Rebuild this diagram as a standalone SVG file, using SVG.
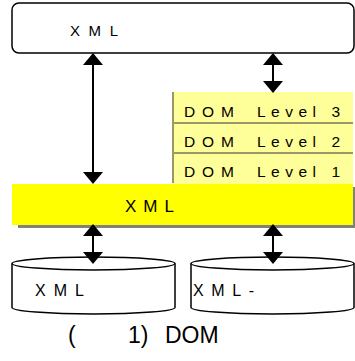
<svg xmlns="http://www.w3.org/2000/svg" width="355" height="361" viewBox="0 0 355 361">
<style>
  text { font-family: "Liberation Sans", Arial, sans-serif; fill: #000; }
  .box { fill: #fff; stroke: #000; stroke-width: 1.5; }
  .lvl { fill: #ffff99; }
  .sep { stroke: #999966; stroke-width: 2; }
  .conn { stroke: #000; stroke-width: 2; fill: none; marker-start: url(#ah); marker-end: url(#ah); }
  .t13 { font-size: 15px; }
  .t14 { font-size: 15.5px; }
  .t15 { font-size: 16px; }
  .t16 { font-size: 17px; }
  .cap { font-size: 23px; }
</style>
<defs>
  <marker id="ah" viewBox="0 0 12 20" refX="11" refY="10" markerWidth="12" markerHeight="20" markerUnits="userSpaceOnUse" orient="auto-start-reverse">
    <path d="M0,0 L12,10 L0,20 Z" fill="#000"/>
  </marker>
</defs>

<g id="app">
  <rect class="box" x="12" y="3" width="342" height="50" rx="7" ry="7"/>
  <text class="t13" x="70" y="36" textLength="48">XML</text>
</g>

<g id="dom-levels">
  <rect class="lvl" x="172" y="92" width="181" height="92"/>
  <line class="sep" x1="173" y1="92" x2="173" y2="183"/>
  <line class="sep" x1="172" y1="123" x2="353" y2="123"/>
  <line class="sep" x1="172" y1="153" x2="353" y2="153"/>
  <text class="t14" x="184" y="117" textLength="50">DOM</text>
  <text class="t14" x="257" y="117" textLength="83">Level 3</text>
  <text class="t14" x="184" y="147" textLength="50">DOM</text>
  <text class="t14" x="257" y="147" textLength="83">Level 2</text>
  <text class="t14" x="184" y="177" textLength="50">DOM</text>
  <text class="t14" x="257" y="177" textLength="83">Level 1</text>
</g>

<g id="parser">
  <rect x="18" y="187" width="341" height="41" fill="#808080"/>
  <rect x="12" y="184" width="341" height="41" fill="#ffff00"/>
  <text class="t16" x="125" y="212" textLength="49">XML</text>
</g>

<g id="db-xml">
  <path class="box" d="M12,263.5 L12,307.5 A81.5,6.5 0 0 0 175,307.5 L175,263.5"/>
  <ellipse class="box" cx="93.5" cy="263.5" rx="81.5" ry="6.5"/>
  <text class="t15" x="35" y="296" textLength="49">XML</text>
</g>

<g id="db-xml2">
  <path class="box" d="M191,263.5 L191,307.5 A81.5,6.5 0 0 0 354,307.5 L354,263.5"/>
  <ellipse class="box" cx="272.5" cy="263.5" rx="81.5" ry="6.5"/>
  <text class="t15" x="193" y="296" textLength="61">XML-</text>
</g>

<g id="connectors">
  <line class="conn" x1="93" y1="54" x2="93" y2="183"/>
  <line class="conn" x1="273" y1="54" x2="273" y2="92"/>
  <line class="conn" x1="93" y1="225" x2="93" y2="263"/>
  <line class="conn" x1="273" y1="225" x2="273" y2="263"/>
</g>

<g id="caption">
  <text class="cap" x="68" y="343">(</text>
  <text class="cap" x="128" y="343">1)</text>
  <text class="cap" x="165" y="343">DOM</text>
</g>
</svg>
